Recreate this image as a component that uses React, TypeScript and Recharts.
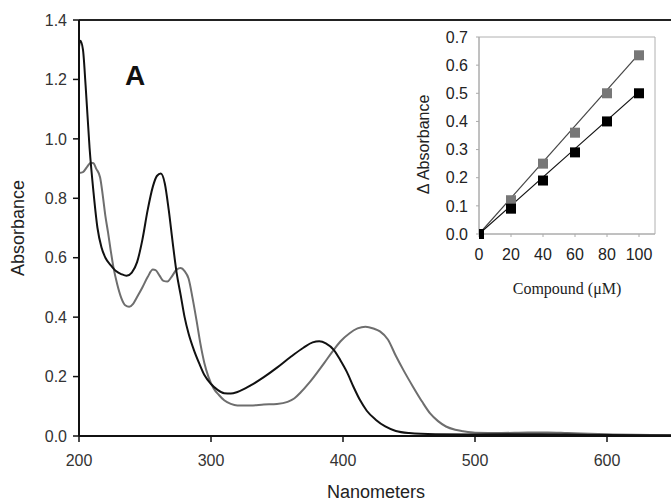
import React from 'react';
import {
  LineChart,
  Line,
  XAxis,
  YAxis,
  ReferenceLine,
  ComposedChart,
  Scatter,
  ReferenceArea,
} from 'recharts';

// Panel A: UV-Vis spectra (wavelength in nm, absorbance)
const blackNm = [200, 201, 203, 205, 208, 211, 214, 217, 220, 224, 228, 232, 236, 240, 244, 248, 252, 256, 259, 262, 265, 268, 271, 274, 277, 280, 283, 287, 291, 295, 300, 305, 310, 315, 320, 330, 340, 350, 360, 370, 377, 382, 387, 393, 398, 403, 408, 413, 418, 425, 432, 440, 450, 470, 500, 550, 600, 650];
const blackAbs = [1.31, 1.33, 1.3, 1.18, 0.97, 0.82, 0.7, 0.635, 0.6, 0.575, 0.555, 0.545, 0.539, 0.55, 0.585, 0.66, 0.76, 0.84, 0.875, 0.883, 0.85, 0.76, 0.65, 0.548, 0.475, 0.4, 0.345, 0.29, 0.245, 0.205, 0.175, 0.155, 0.144, 0.143, 0.148, 0.17, 0.198, 0.23, 0.265, 0.297, 0.315, 0.319, 0.312, 0.29, 0.255, 0.215, 0.165, 0.12, 0.085, 0.054, 0.032, 0.017, 0.01, 0.006, 0.005, 0.006, 0.003, 0.002];

const grayNm = [200, 203, 206, 209, 211, 213, 216, 218, 220, 222, 224, 226, 229, 232, 235, 238, 241, 244, 248, 252, 256, 258, 261, 264, 267, 270, 274, 277, 280, 283, 286, 289, 292, 295, 298, 302, 306, 310, 315, 320, 330, 340, 350, 358, 363, 368, 374, 380, 386, 392, 398, 405, 411, 417, 423, 428, 434, 440, 446, 453, 460, 466, 472, 478, 485, 491, 500, 520, 540, 555, 570, 600, 650];
const grayAbs = [0.885, 0.888, 0.905, 0.92, 0.918, 0.9, 0.87, 0.81, 0.74, 0.685, 0.625, 0.57, 0.51, 0.465, 0.44, 0.435, 0.445, 0.468, 0.5, 0.535, 0.56, 0.558, 0.54, 0.522, 0.52, 0.535, 0.56, 0.565, 0.555, 0.53, 0.465, 0.39, 0.31, 0.245, 0.2, 0.16, 0.138, 0.12, 0.108, 0.103, 0.103, 0.106, 0.108, 0.115, 0.126, 0.147, 0.177, 0.211, 0.247, 0.284, 0.318, 0.346, 0.362, 0.368, 0.362, 0.352, 0.325, 0.27, 0.22, 0.166, 0.115, 0.076, 0.05, 0.032, 0.021, 0.016, 0.011, 0.01, 0.012, 0.012, 0.01, 0.006, 0.003];

const xTicksA = [200, 300, 400, 500, 600];
const yTicksA = [0, 0.2, 0.4, 0.6, 0.8, 1.0, 1.2, 1.4];

// Panel B: delta absorbance vs compound concentration
const conc = [0, 20, 40, 60, 80, 100];
const deltaGray = [0, 0.12, 0.25, 0.36, 0.5, 0.635];
const deltaBlack = [0, 0.09, 0.19, 0.29, 0.4, 0.5];
const fitConc = [0, 100];
const fitGray = [0, 0.64];
const fitBlack = [0, 0.505];
const xTicksB = [0, 20, 40, 60, 80, 100];
const yTicksB = [0, 0.1, 0.2, 0.3, 0.4, 0.5, 0.6, 0.7];

const blackData = blackNm.map((nm, i) => ({ nm, a: blackAbs[i] }));
const grayData = grayNm.map((nm, i) => ({ nm, a: grayAbs[i] }));
const scatterGray = conc.map((x, i) => ({ x, y: deltaGray[i] }));
const scatterBlack = conc.map((x, i) => ({ x, y: deltaBlack[i] }));
const lineGray = fitConc.map((x, i) => ({ x, y: fitGray[i] }));
const lineBlack = fitConc.map((x, i) => ({ x, y: fitBlack[i] }));

const makeSquare = (fill: string) => (props: any) => {
  const { cx, cy } = props;
  if (cx == null || cy == null) return null;
  return <rect x={cx - 5} y={cy - 5} width={10} height={10} fill={fill} />;
};

const SANS = "'Liberation Sans', Arial, sans-serif";
const SERIF = "'Liberation Serif', 'Times New Roman', serif";

export default function App() {
  return (
    <div
      style={{
        position: 'absolute',
        left: 0,
        top: 0,
        width: 671,
        height: 504,
        overflow: 'hidden',
        background: '#fff',
        fontFamily: SANS,
      }}
    >
      <div style={{ position: 'absolute', left: 0, top: 0 }}>
        <LineChart width={680} height={504} margin={{ top: 20, right: 7, left: 0, bottom: 2 }}>
          <XAxis
            type="number"
            dataKey="nm"
            domain={[200, 650]}
            ticks={xTicksA}
            allowDataOverflow
            height={66}
            tickSize={6}
            tickMargin={13}
            axisLine={{ stroke: '#111', strokeWidth: 2 }}
            tickLine={{ stroke: '#111', strokeWidth: 1.5 }}
            tick={{ fill: '#333', fontSize: 16 }}
            label={{ value: 'Nanometers', position: 'insideBottom', offset: 4, fontSize: 18, fill: '#222' }}
          />
          <YAxis
            type="number"
            domain={[0, 1.4]}
            ticks={yTicksA}
            width={79}
            tickSize={6}
            tickMargin={6}
            tickFormatter={(v: number) => v.toFixed(1)}
            axisLine={{ stroke: '#111', strokeWidth: 2 }}
            tickLine={{ stroke: '#111', strokeWidth: 1.5 }}
            tick={{ fill: '#333', fontSize: 16 }}
            label={{ value: 'Absorbance', angle: -90, position: 'center', dx: -22, fontSize: 18, fill: '#222' }}
          />
          <ReferenceLine y={1.4} stroke="#222" strokeWidth={2} />
          <Line
            data={grayData}
            dataKey="a"
            type="monotone"
            stroke="#6e6e6e"
            strokeWidth={2}
            dot={false}
            isAnimationActive={false}
          />
          <Line
            data={blackData}
            dataKey="a"
            type="monotone"
            stroke="#111"
            strokeWidth={2}
            dot={false}
            isAnimationActive={false}
          />
          <text x={135} y={85} textAnchor="middle" fontSize={28} fontWeight="bold" fill="#111" fontFamily={SANS}>
            A
          </text>
        </LineChart>
      </div>
      <div style={{ position: 'absolute', left: 400, top: 0 }}>
        <ComposedChart width={271} height={320} margin={{ top: 37, right: 16, left: 0, bottom: 26 }}>
          <XAxis
            type="number"
            dataKey="x"
            domain={[0, 110]}
            ticks={xTicksB}
            allowDataOverflow
            height={60}
            tickSize={3}
            tickMargin={12}
            axisLine={{ stroke: '#aaa', strokeWidth: 1 }}
            tickLine={{ stroke: '#aaa' }}
            tick={{ fill: '#222', fontSize: 16 }}
            label={{ value: 'Compound (\u03bcM)', position: 'insideBottom', offset: 0, fontSize: 16, fill: '#222', fontFamily: SERIF }}
          />
          <YAxis
            type="number"
            domain={[0, 0.7]}
            ticks={yTicksB}
            width={79}
            tickSize={3}
            tickMargin={8}
            tickFormatter={(v: number) => v.toFixed(1)}
            axisLine={{ stroke: '#aaa', strokeWidth: 1 }}
            tickLine={{ stroke: '#aaa' }}
            tick={{ fill: '#222', fontSize: 16 }}
            label={{ value: '\u0394 Absorbance', angle: -90, position: 'center', dx: -16, dy: 9, fontSize: 16, fill: '#222' }}
          />
          <ReferenceArea x1={0} x2={110} y1={0} y2={0.7} fill="#fff" fillOpacity={1} stroke="#b0b0b0" strokeWidth={1} />
          <Scatter data={scatterGray} dataKey="y" shape={makeSquare('#777')} isAnimationActive={false} />
          <Scatter data={scatterBlack} dataKey="y" shape={makeSquare('#000')} isAnimationActive={false} />
          <Line data={lineGray} dataKey="y" type="linear" stroke="#444" strokeWidth={1.2} dot={false} isAnimationActive={false} />
          <Line data={lineBlack} dataKey="y" type="linear" stroke="#111" strokeWidth={1.2} dot={false} isAnimationActive={false} />
          <text x={105} y={83} textAnchor="middle" fontSize={30} fontWeight="bold" fill="#111" fontFamily={SANS}>
            B
          </text>
        </ComposedChart>
      </div>
    </div>
  );
}
